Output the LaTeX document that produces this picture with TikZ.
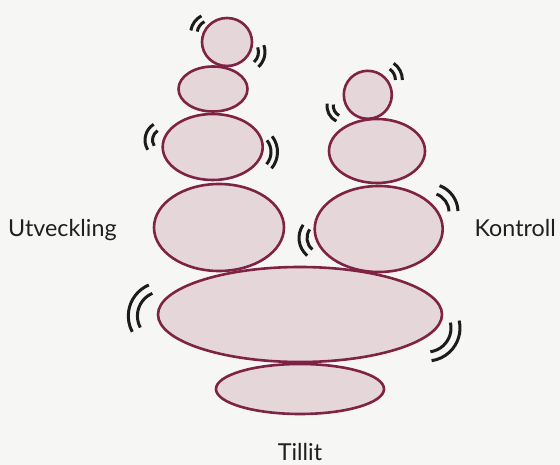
\documentclass[tikz,border=0pt]{standalone}
\usepackage{fontspec}
\setmainfont{Lato}
\usetikzlibrary{positioning}

\definecolor{paper}{HTML}{F6F6F4}
\definecolor{stonefill}{HTML}{E5D6DA}
\definecolor{stoneline}{HTML}{7E2343}
\definecolor{shake}{HTML}{1C1C1C}

\tikzset{
	stone/.style={draw=stoneline, fill=stonefill, line width=2.6pt},
	shakeline/.style={draw=shake, line width=3pt},
	caption/.style={font=\fontsize{23.3}{27}\selectfont, text=black!88, inner sep=0pt}
}

\begin{document}
\begin{tikzpicture}[x=1pt,y=1pt]

% Shake marks: two arcs round one centre
\newcommand\wobble[6]{
	\draw[shakeline] ([shift={(#5:#3pt)}]#1,-#2) arc[start angle=#5, end angle=#6, radius=#3pt];
	\draw[shakeline] ([shift={(#5:#4pt)}]#1,-#2) arc[start angle=#5, end angle=#6, radius=#4pt];
}

% Background
\fill[paper] (0,0) rectangle (560,-465);
\useasboundingbox (0,0) rectangle (560,-465);

% Bottom stones
\draw[stone] (300,-389) ellipse (84pt and 25pt);
\draw[stone] (300,-314.5) ellipse (142pt and 47.5pt);

% Left pile
\foreach \x/\y/\rx/\ry in {219/227.5/65/43.5, 212.7/147/50/33, 213/89/34.5/22.5, 227/42/25/24} {
	\draw[stone] (\x,-\y) ellipse (\rx pt and \ry pt);
}

% Right pile
\foreach \x/\y/\rx/\ry in {378.7/229/64/43, 377/151/48/32, 367.8/94.8/24/24} {
	\draw[stone] (\x,-\y) ellipse (\rx pt and \ry pt);
}

% Shaking
\wobble{211}{34}{14}{20.5}{118}{170}
\wobble{245}{52}{13.5}{20}{20}{-48}
\wobble{163.5}{140}{11}{18.5}{122}{212}
\wobble{252}{152}{19}{25.5}{38}{-40}
\wobble{344}{106}{10.7}{17}{172}{243}
\wobble{382}{80}{13.4}{20.4}{0}{55}
\wobble{430}{212}{19}{28}{2}{70}
\wobble{322}{238}{15}{23}{145}{230}
\wobble{162}{316}{24.6}{33.7}{113}{208}
\wobble{427}{328}{24}{33}{13}{-82}

% Labels
\node[caption, anchor=base west] (utv) at (8,-236.7) {Utveckling};
\node[caption, anchor=base east] (kon) at (556,-236.7) {Kontroll};
\node[caption, anchor=base] (til) at (300,-460) {Tillit};

\end{tikzpicture}
\end{document}
